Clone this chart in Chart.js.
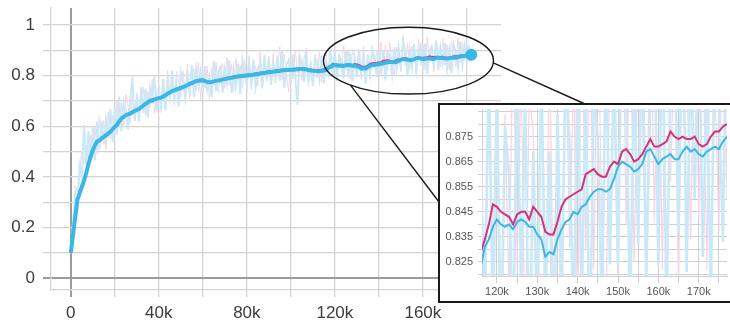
<!DOCTYPE html>
<html><head><meta charset="utf-8">
<script src="https://cdn.jsdelivr.net/npm/chart.js@4.4.0/dist/chart.umd.min.js"></script>
<style>
html,body{margin:0;padding:0;background:#fff;overflow:hidden;}
#wrap{position:relative;width:730px;height:325px;}
#main{position:absolute;left:0;top:0;}
#inset{position:absolute;left:440px;top:105px;background:#fff;}
</style></head><body>
<div id="wrap"><canvas id="main" width="730" height="325"></canvas><canvas id="inset" width="290" height="196"></canvas></div>
<script>
// training steps, in thousands
const stepsK = [0,1,2,3,4,5,6,7,8,9,10,11,12,13,14,15,16,17,18,19,20,21,22,23,24,25,26,27,28,29,30,31,32,33,34,35,36,37,38,39,40,41,42,43,44,45,46,47,48,49,50,51,52,53,54,55,56,57,58,59,60,61,62,63,64,65,66,67,68,69,70,71,72,73,74,75,76,77,78,79,80,81,82,83,84,85,86,87,88,89,90,91,92,93,94,95,96,97,98,99,100,101,102,103,104,105,106,107,108,109,110,111,112,113,114,115,116,117,118,119,120,121,122,123,124,125,126,127,128,129,130,131,132,133,134,135,136,137,138,139,140,141,142,143,144,145,146,147,148,149,150,151,152,153,154,155,156,157,158,159,160,161,162,163,164,165,166,167,168,169,170,171,172,173,174,175,176,177,178,179,180,181,182];

const blueSmooth = [0.100,0.170,0.240,0.310,0.335,0.360,0.385,0.415,0.450,0.480,0.505,0.525,0.540,0.544,0.552,0.558,
0.565,0.571,0.578,0.588,0.598,0.606,0.619,0.631,0.636,0.644,0.647,0.650,0.655,0.660,0.664,0.668,
0.675,0.682,0.689,0.694,0.702,0.701,0.706,0.708,0.711,0.713,0.717,0.722,0.729,0.733,0.739,0.742,
0.745,0.748,0.751,0.754,0.758,0.762,0.768,0.770,0.775,0.778,0.780,0.781,0.782,0.778,0.775,0.774,
0.775,0.777,0.779,0.781,0.782,0.785,0.786,0.788,0.790,0.791,0.793,0.795,0.796,0.797,0.798,0.799,
0.800,0.801,0.802,0.803,0.806,0.805,0.808,0.809,0.810,0.812,0.813,0.814,0.815,0.818,0.817,0.819,
0.820,0.821,0.822,0.822,0.823,0.823,0.824,0.825,0.826,0.826,0.825,0.824,0.822,0.820,0.819,0.818,
0.817,0.817,0.818,0.820,
0.823,0.831,0.834,0.839,0.842,0.840,0.839,0.840,0.838,0.841,0.842,0.841,0.839,0.839,0.836,0.834,
0.827,0.829,0.828,0.834,0.838,0.841,0.842,0.845,0.844,0.847,0.848,0.851,0.853,0.854,0.854,0.853,
0.854,0.858,0.863,0.865,0.864,0.863,0.861,0.862,0.864,0.869,0.870,0.867,0.864,0.866,0.867,0.868,
0.866,0.866,0.869,0.871,0.869,0.870,0.868,0.867,0.869,0.870,0.871,0.870,0.873,0.875,0.876,0.877,
0.878,0.880,0.882];

const pinkSmooth = [0.100,0.168,0.245,0.318,0.340,0.362,0.390,0.418,0.452,0.483,0.508,0.530,0.542,0.548,0.556,0.562,
0.568,0.575,0.583,0.592,0.600,0.610,0.620,0.631,0.641,0.646,0.650,0.655,0.659,0.663,0.667,0.671,
0.678,0.685,0.692,0.697,0.703,0.707,0.709,0.712,0.714,0.716,0.720,0.725,0.730,0.737,0.742,0.745,
0.748,0.752,0.755,0.758,0.762,0.765,0.770,0.775,0.778,0.781,0.783,0.785,0.785,0.781,0.778,0.777,
0.778,0.780,0.782,0.784,0.786,0.788,0.790,0.792,0.793,0.795,0.797,0.799,0.800,0.801,0.802,0.803,
0.804,0.805,0.806,0.807,0.809,0.810,0.812,0.813,0.814,0.816,0.817,0.818,0.819,0.821,0.822,0.823,
0.824,0.825,0.826,0.826,0.827,0.827,0.828,0.829,0.830,0.830,0.829,0.828,0.826,0.825,0.824,0.823,
0.822,0.823,0.824,0.826,
0.829,0.834,0.840,0.848,0.847,0.845,0.844,0.843,0.840,0.844,0.845,0.845,0.842,0.847,0.845,0.843,
0.837,0.836,0.836,0.841,0.847,0.850,0.851,0.852,0.853,0.854,0.860,0.861,0.862,0.860,0.859,0.859,
0.863,0.865,0.864,0.869,0.870,0.868,0.865,0.866,0.868,0.871,0.874,0.871,0.871,0.872,0.873,0.877,
0.875,0.874,0.875,0.874,0.874,0.875,0.872,0.871,0.872,0.875,0.877,0.877,0.879,0.880,0.881,0.882,
0.883,0.884,0.886];

const blueRaw = [0.10,0.22,0.33,0.28,0.445,0.40,0.605,0.445,0.58,0.47,0.595,0.465,0.618,0.505,0.622,0.528,
0.625,0.551,0.668,0.538,0.668,0.566,0.717,0.579,0.698,0.664,0.587,0.702,0.795,0.62,0.704,0.618,
0.755,0.652,0.749,0.634,0.75,0.713,0.796,0.658,0.741,0.673,0.787,0.662,0.777,0.714,0.819,0.702,
0.775,0.678,0.811,0.774,0.708,0.802,0.737,0.842,0.715,0.828,0.76,0.821,0.732,0.838,0.745,0.794,
0.715,0.857,0.739,0.811,0.832,0.734,0.827,0.768,0.86,0.731,0.823,0.755,0.846,0.727,0.858,0.809,
0.76,0.851,0.772,0.863,0.755,0.826,0.848,0.749,0.88,0.782,0.863,0.764,0.845,0.797,0.878,0.779,
0.90,0.751,0.842,0.862,0.773,0.883,0.794,0.685,0.876,0.856,0.775,0.894,0.782,0.84,0.759,0.868,
0.857,0.787,0.878,0.77,
0.853,0.811,0.904,0.799,0.892,0.78,0.879,0.86,0.788,0.901,0.812,0.891,0.779,0.869,0.796,0.904,
0.807,0.869,0.768,0.884,0.808,0.901,0.872,0.795,0.904,0.807,0.898,0.781,0.893,0.874,0.804,0.913,
0.824,0.908,0.823,0.935,0.894,0.803,0.901,0.832,0.924,0.819,0.89,0.917,0.824,0.926,0.807,0.898,
0.916,0.836,0.939,0.821,0.909,0.85,0.928,0.827,0.899,0.81,0.921,0.89,0.833,0.935,0.846,0.917,
0.858,0.91,0.882];

const pinkRaw = [0.10,0.198,0.365,0.338,0.42,0.502,0.45,0.518,0.472,0.563,0.478,0.60,0.492,0.638,0.536,0.622,
0.508,0.655,0.553,0.642,0.56,0.70,0.60,0.691,0.591,0.726,0.68,0.615,0.729,0.633,0.727,0.631,
0.708,0.755,0.642,0.737,0.673,0.787,0.649,0.732,0.764,0.686,0.78,0.675,0.82,0.717,0.782,0.685,
0.818,0.782,0.715,0.818,0.732,0.845,0.71,0.795,0.828,0.741,0.853,0.705,0.825,0.751,0.838,0.707,
0.828,0.76,0.852,0.734,0.816,0.848,0.75,0.872,0.763,0.845,0.737,0.869,0.78,0.841,0.752,0.863,
0.774,0.875,0.746,0.847,0.839,0.76,0.892,0.793,0.864,0.776,0.877,0.788,0.889,0.771,0.842,0.913,
0.784,0.885,0.796,0.736,0.877,0.787,0.898,0.809,0.89,0.78,0.869,0.908,0.766,0.855,0.784,0.883,
0.792,0.893,0.774,0.866,
0.889,0.794,0.89,0.818,0.917,0.795,0.884,0.813,0.92,0.824,0.905,0.785,0.892,0.877,0.805,0.903,
0.787,0.916,0.806,0.881,0.787,0.92,0.831,0.902,0.803,0.934,0.83,0.921,0.822,0.93,0.839,0.799,
0.913,0.895,0.814,0.959,0.84,0.928,0.825,0.916,0.888,0.811,0.944,0.841,0.921,0.822,0.953,0.857,
0.915,0.814,0.935,0.904,0.834,0.945,0.842,0.921,0.822,0.935,0.897,0.837,0.949,0.85,0.931,0.862,
0.923,0.854,0.886];

const mainXTicks = [0,20000,40000,60000,80000,100000,120000,140000,160000,180000];
const mainXLabels = ['0','','40k','','80k','','120k','','160k',''];
const mainYTicks = [0,0.1,0.2,0.3,0.4,0.5,0.6,0.7,0.8,0.9,1];
const mainYLabels = ['0','','0.2','','0.4','','0.6','','0.8','','1'];
const insetXTicks = [120000,125000,130000,135000,140000,145000,150000,155000,160000,165000,170000,175000];
const insetXLabels = ['120k','','130k','','140k','','150k','','160k','','170k',''];
const insetYTicks = [0.82,0.825,0.83,0.835,0.84,0.845,0.85,0.855,0.86,0.865,0.87,0.875,0.88,0.885];
const insetYLabels = ['','0.825','','0.835','','0.845','','0.855','','0.865','','0.875','',''];

const C_BLUE = '#3bb7e6', C_PINK = '#d5327b', C_BLUE_RAW = '#c9e9f8', C_PINK_RAW = '#f9d3e1';
const FONT = 'Liberation Sans, Arial, sans-serif';

function pts(arr){ return stepsK.map((k,i)=>({x:k*1000, y:arr[i]})); }
const lastIdx = stepsK.length - 1;

function datasets(inset){
  const clip = inset ? 0 : undefined;
  return [
    {data:pts(blueSmooth), borderColor:C_BLUE, backgroundColor:C_BLUE, borderWidth: inset?2:4, order:0,
     pointRadius: inset ? 0 : (c => c.dataIndex===lastIdx ? 6 : 0), pointBorderWidth:0, pointHoverRadius:0,
     borderJoinStyle:'round', clip},
    {data:pts(pinkSmooth), borderColor:C_PINK, borderWidth: inset?2:1.5, order:1, pointRadius:0, clip},
    {data:pts(blueRaw), borderColor:C_BLUE_RAW, borderWidth: inset?2.6:2, order:2, pointRadius:0, clip},
    {data:pts(pinkRaw), borderColor:C_PINK_RAW, borderWidth: inset?1.2:1, order:3, pointRadius:0, clip}
  ];
}

function fixedTicks(values){ return function(scale){ scale.ticks = values.map(v=>({value:v})); }; }
function noPad(s){ s.paddingTop = 0; s.paddingBottom = 0; s.paddingLeft = 0; s.paddingRight = 0; }

const ELL = {cx:153450, cy:0.859, rx:38630, ry:0.132};
const BOX = {left:439, top:104, width:320, height:198};

const overlay = {
  id:'overlay',
  afterDraw(chart){
    const {ctx} = chart; const x = chart.scales.x, y = chart.scales.y;
    const cx = x.getPixelForValue(ELL.cx), cy = y.getPixelForValue(ELL.cy);
    const rx = x.getPixelForValue(ELL.cx+ELL.rx)-cx, ry = cy - y.getPixelForValue(ELL.cy+ELL.ry);
    ctx.save();
    ctx.strokeStyle = '#1a1a1a'; ctx.lineWidth = 1.4;
    ctx.beginPath(); ctx.ellipse(cx, cy, rx, ry, 0, 0, Math.PI*2); ctx.stroke();
    const a1 = 4*Math.PI/180, a2 = 133*Math.PI/180;
    ctx.beginPath(); ctx.moveTo(cx+rx*Math.cos(a1), cy+ry*Math.sin(a1)); ctx.lineTo(585, BOX.top); ctx.stroke();
    ctx.beginPath(); ctx.moveTo(cx+rx*Math.cos(a2), cy+ry*Math.sin(a2)); ctx.lineTo(BOX.left, 202); ctx.stroke();
    ctx.lineWidth = 2; ctx.strokeRect(BOX.left, BOX.top, BOX.width, BOX.height);
    ctx.restore();
  }
};

const zeroGrid = {
  color: c => (c.tick && c.tick.value === 0) ? '#9b9b9b' : '#d3d3d3',
  lineWidth: c => (c.tick && c.tick.value === 0) ? 2 : 1.3
};

new Chart(document.getElementById('main'), {
  type:'line',
  data:{datasets:datasets(false)},
  plugins:[overlay],
  options:{
    responsive:false, animation:false, devicePixelRatio:1,
    layout:{padding:{left:0, top:8, right:229, bottom:0}},
    plugins:{legend:{display:false}, tooltip:{enabled:false}},
    elements:{line:{tension:0}},
    scales:{
      x:{type:'linear', min:-9000, max:195500,
         afterBuildTicks: fixedTicks(mainXTicks),
         afterFit(s){ s.height = 35; noPad(s); },
         grid:{color:zeroGrid.color, lineWidth:zeroGrid.lineWidth, tickLength:7},
         border:{display:true, color:'#d3d3d3', width:1.3},
         ticks:{autoSkip:false, maxRotation:0, padding:6, color:'#3c3c3c', font:{family:FONT, size:17},
                callback:(v,i)=>mainXLabels[i]}},
      y:{type:'linear', min:-0.047, max:1.067,
         afterBuildTicks: fixedTicks(mainYTicks),
         afterFit(s){ s.width = 51; noPad(s); },
         grid:{color:zeroGrid.color, lineWidth:zeroGrid.lineWidth, tickLength:8},
         border:{display:true, color:'#d3d3d3', width:1.3},
         ticks:{autoSkip:false, padding:8, color:'#3c3c3c', font:{family:FONT, size:17},
                callback:(v,i)=>mainYLabels[i]}}
    }
  }
});

new Chart(document.getElementById('inset'), {
  type:'line',
  data:{datasets:datasets(true)},
  options:{
    responsive:false, animation:false, devicePixelRatio:1,
    layout:{padding:{left:0, top:4, right:3, bottom:0}},
    plugins:{legend:{display:false}, tooltip:{enabled:false}},
    elements:{line:{tension:0}},
    scales:{
      x:{type:'linear', min:116300, max:177000,
         afterBuildTicks: fixedTicks(insetXTicks),
         afterFit(s){ s.height = 25; noPad(s); },
         grid:{color:'#cfcfcf', lineWidth:1, tickLength:7},
         border:{display:true, color:'#cfcfcf', width:1},
         ticks:{autoSkip:false, maxRotation:0, padding:2, color:'#555', font:{family:FONT, size:11},
                callback:(v,i)=>insetXLabels[i]}},
      y:{type:'linear', min:0.8194, max:0.886,
         afterBuildTicks: fixedTicks(insetYTicks),
         afterFit(s){ s.width = 42; noPad(s); },
         grid:{color:'#cfcfcf', lineWidth:1, tickLength:4},
         border:{display:true, color:'#cfcfcf', width:1},
         ticks:{autoSkip:false, padding:5, color:'#555', font:{family:FONT, size:11},
                callback:(v,i)=>insetYLabels[i]}}
    }
  }
});
</script>
</body></html>
